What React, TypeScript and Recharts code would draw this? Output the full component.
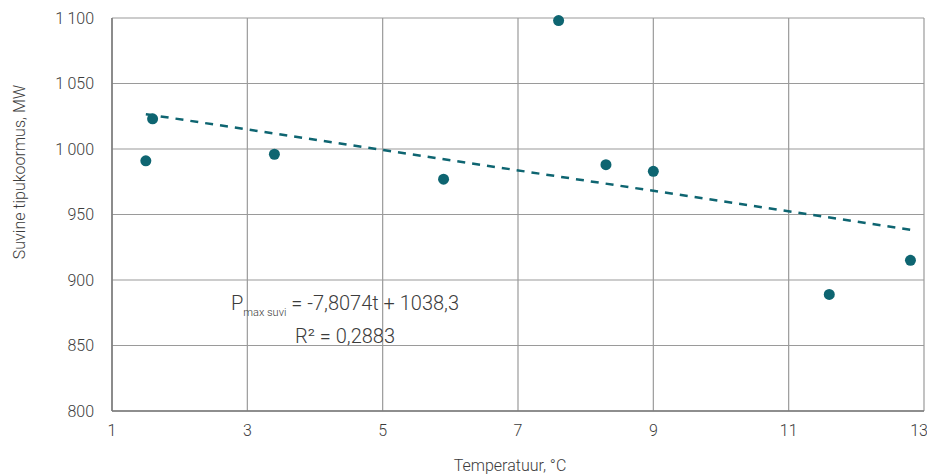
import React from "react";
import {
  ScatterChart,
  Scatter,
  XAxis,
  YAxis,
  CartesianGrid,
  ReferenceDot,
} from "recharts";

const temperatures = [1.5, 1.6, 3.4, 5.9, 7.6, 8.3, 9.0, 11.6, 12.8];
const peakLoads = [991, 1023, 996, 977, 1098, 988, 983, 889, 915];

const trendX = [1.5, 12.8];
const trendY = [1026.6, 938.4];

const xTicks = [1, 3, 5, 7, 9, 11, 13];
const yTicks = [800, 850, 900, 950, 1000, 1050, 1100];

const points = temperatures.map((t, i) => ({ x: t, y: peakLoads[i] }));
const trend = trendX.map((t, i) => ({ x: t, y: trendY[i] }));

const TEAL = "#0e6571";
const TEXT = "#3c3c3c";
const FONT = "Roboto, 'Open Sans', sans-serif";

const fmtY = (v: number) => {
  const s = String(v);
  return s.length > 3 ? s.slice(0, s.length - 3) + "\u2009" + s.slice(-3) : s;
};

const Dot = (props: any) => {
  const { cx, cy } = props;
  if (cx == null || cy == null) return <g />;
  return <circle cx={cx} cy={cy} r={5.5} fill={TEAL} />;
};

const Equation = () => (
  <g style={{ fontFamily: FONT, fontWeight: 300 }} fill={TEXT}>
    <text x={231} y={310} fontSize={20}>
      P
      <tspan fontSize={11} dy={6}>
        {"max suvi"}
      </tspan>
      <tspan fontSize={20} dy={-6}>
        {" = -7,8074t + 1038,3"}
      </tspan>
    </text>
    <text x={295} y={343} fontSize={20}>
      R² = 0,2883
    </text>
  </g>
);

export default function App() {
  return (
    <div style={{ position: "absolute", left: 0, top: 0, width: 927, height: 476, background: "#fff" }}>
      <ScatterChart
        width={927}
        height={476}
        margin={{ top: 18, right: 3, bottom: 35, left: 0 }}
        style={{ fontFamily: FONT, fontWeight: 300 }}
      >
        <CartesianGrid stroke="#9a9a9a" strokeWidth={1.2} />
        <XAxis
          type="number"
          dataKey="x"
          domain={[1, 13]}
          ticks={xTicks}
          height={30}
          tickSize={0}
          tickMargin={14}
          axisLine={{ stroke: "#7a7a7a", strokeWidth: 1.5 }}
          tickLine={false}
          tick={{ fill: TEXT, fontSize: 16, fontWeight: 300 }}
          label={{
            content: () => (
              <text x={510} y={471} textAnchor="middle" fill={TEXT} fontSize={16} style={{ fontFamily: FONT, fontWeight: 300 }}>
                Temperatuur, °C
              </text>
            ),
          }}
        />
        <YAxis
          type="number"
          dataKey="y"
          domain={[800, 1100]}
          ticks={yTicks}
          width={112}
          tickSize={0}
          tickMargin={18}
          tickFormatter={fmtY}
          axisLine={{ stroke: "#7a7a7a", strokeWidth: 1.5 }}
          tickLine={false}
          tick={{ fill: TEXT, fontSize: 16, fontWeight: 300 }}
          label={{
            content: () => (
              <text
                transform="translate(25,172) rotate(-90)"
                textAnchor="middle"
                fill={TEXT}
                fontSize={16}
                style={{ fontFamily: FONT, fontWeight: 300 }}
              >
                Suvine tipukoormus, MW
              </text>
            ),
          }}
        />
        <Scatter
          data={trend}
          isAnimationActive={false}
          line={{ stroke: TEAL, strokeWidth: 2.5, strokeDasharray: "8 7" }}
          shape={() => <g />}
          legendType="none"
        />
        <Scatter data={points} isAnimationActive={false} shape={<Dot />} fill={TEAL} />
        <ReferenceDot x={3} y={900} r={0} fill="none" stroke="none" label={{ content: () => <Equation /> }} />
      </ScatterChart>
    </div>
  );
}
